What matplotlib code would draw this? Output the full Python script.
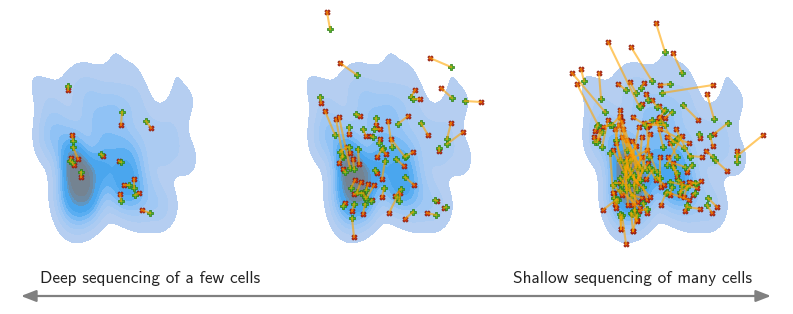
import numpy as np
import matplotlib
matplotlib.use('Agg')
import matplotlib.pyplot as plt

# rows: true x, true y, measured x, measured y  (embedding units, y downwards)
deep_cells = np.array([
    [68, 86, 68, 90], [122, 112, 121, 125], [146, 121, 151, 128],
    [73, 141, 72, 135], [73, 147, 78, 159], [70, 161, 71, 158],
    [72, 162, 74, 165], [81, 172, 81, 177], [101, 154, 103, 156],
    [121, 162, 119, 161], [134, 188, 134, 179], [129, 185, 124, 185],
    [135, 195, 139, 193], [121, 201, 120, 194], [150, 213, 142, 210],
])

medium_cells = np.array([
    [55, 29, 52, 12], [82, 75, 65, 63], [176, 67, 155, 58],
    [177, 98, 166, 88], [190, 101, 206, 102], [136, 97, 140, 90],
    [138, 99, 145, 99], [45, 97, 46, 103], [123, 124, 133, 116],
    [146, 123, 153, 135], [172, 139, 176, 123], [172, 144, 188, 132],
    [164, 148, 164, 151], [81, 114, 85, 116], [101, 118, 101, 125],
    [88, 129, 91, 136], [99, 129, 105, 129], [98, 137, 96, 136],
    [104, 143, 105, 139], [117, 147, 113, 121], [130, 157, 116, 139],
    [131, 156, 138, 152], [121, 159, 129, 166], [130, 177, 139, 185],
    [110, 161, 107, 179], [108, 148, 102, 157], [100, 170, 102, 173],
    [109, 188, 107, 197], [126, 189, 120, 196], [124, 201, 125, 193],
    [122, 197, 114, 213], [138, 212, 130, 219], [160, 200, 162, 201],
    [161, 215, 152, 213], [171, 207, 169, 208], [77, 218, 79, 237],
    [79, 204, 77, 211], [68, 206, 70, 203], [90, 204, 88, 214],
    [96, 201, 97, 200], [83, 149, 84, 164], [74, 127, 74, 134],
    [60, 135, 50, 111], [68, 157, 61, 119], [75, 168, 64, 117],
    [67, 156, 64, 163], [70, 172, 68, 169], [76, 188, 80, 180],
    [82, 192, 86, 182], [91, 190, 93, 184], [91, 199, 99, 185],
    [86, 193, 79, 194], [79, 169, 78, 159], [90, 197, 88, 193],
    [65, 152, 72, 147], [74, 147, 75, 153], [107, 149, 111, 154],
])

shallow_cells = np.array([
    [115, 52, 106, 23], [132, 73, 123, 53], [89, 106, 58, 42],
    [102, 81, 81, 47], [55, 112, 22, 73], [34, 81, 31, 69],
    [48, 125, 27, 84], [51, 99, 49, 73], [76, 90, 68, 84],
    [86, 93, 80, 82], [91, 88, 94, 83], [120, 84, 110, 85],
    [112, 93, 163, 85], [164, 119, 157, 94], [133, 105, 148, 120],
    [178, 123, 164, 134], [187, 156, 213, 135], [187, 162, 187, 151],
    [165, 160, 177, 171], [163, 157, 156, 151], [160, 136, 163, 146],
    [149, 134, 150, 138], [127, 139, 139, 143], [140, 156, 152, 157],
    [158, 198, 167, 207], [157, 205, 162, 213], [146, 184, 151, 181],
    [138, 207, 150, 209], [137, 205, 135, 211], [145, 193, 143, 195],
    [132, 186, 130, 195], [72, 215, 76, 244], [67, 199, 53, 210],
    [87, 215, 83, 231], [70, 214, 71, 229], [68, 200, 66, 208],
    [64, 198, 64, 193], [116, 193, 111, 205], [109, 178, 111, 187],
    [122, 187, 120, 195], [97, 209, 89, 211], [82, 214, 87, 221],
    [93, 203, 97, 213], [45, 142, 44, 137], [52, 132, 48, 140],
    [47, 126, 45, 131], [77, 150, 70, 117], [87, 167, 72, 121],
    [80, 175, 69, 125], [70, 160, 65, 129], [90, 180, 73, 129],
    [78, 177, 66, 143], [74, 172, 63, 150], [92, 170, 72, 137],
    [90, 167, 77, 140], [97, 170, 82, 141], [75, 162, 86, 146],
    [72, 185, 81, 156], [76, 190, 77, 158], [80, 170, 89, 127],
    [87, 190, 92, 137], [99, 157, 97, 127], [90, 180, 100, 134],
    [80, 160, 97, 150], [78, 178, 92, 157], [84, 185, 98, 163],
    [76, 165, 87, 183], [82, 195, 92, 198], [93, 187, 97, 200],
    [83, 177, 100, 197], [70, 178, 88, 202], [70, 190, 90, 208],
    [79, 185, 83, 205], [65, 183, 70, 183], [63, 185, 72, 195],
    [75, 167, 78, 205], [84, 175, 85, 211], [84, 210, 87, 220],
    [81, 213, 83, 231], [71, 217, 71, 229], [66, 200, 65, 204],
    [60, 153, 63, 193], [52, 147, 58, 120], [60, 125, 53, 127],
    [47, 142, 50, 130], [66, 140, 70, 110], [115, 125, 99, 125],
    [113, 147, 107, 121], [123, 142, 110, 117], [128, 138, 110, 129],
    [134, 148, 117, 137], [127, 157, 120, 143], [140, 157, 126, 129],
    [117, 165, 132, 136], [107, 172, 100, 155], [110, 178, 110, 157],
    [127, 173, 118, 157], [135, 167, 123, 163], [142, 165, 137, 172],
    [145, 183, 139, 182], [130, 192, 143, 183], [120, 182, 147, 188],
    [137, 187, 134, 197], [117, 192, 139, 200], [107, 177, 114, 185],
    [99, 167, 106, 180], [123, 167, 127, 177], [128, 180, 132, 183],
    [103, 170, 96, 179], [98, 100, 96, 94], [107, 107, 102, 100],
    [114, 111, 109, 106], [90, 107, 92, 104], [95, 125, 83, 117],
    [62, 125, 70, 116], [102, 120, 94, 123], [110, 122, 98, 125],
    [115, 110, 109, 118], [122, 112, 115, 118],
])

label_left = 'Deep sequencing of a few cells'
label_right = 'Shallow sequencing of many cells'

density_colors = ['#b5cef1', '#abcbf2', '#a0c8f4', '#90c2f5', '#78baf5',
                  '#5aaef2', '#4aa6ee', '#5e97c4', '#6d8aa3', '#748391']
level_fracs = [0.05, 0.13, 0.21, 0.29, 0.37, 0.45, 0.53, 0.66, 0.72, 0.82, 1.01]

W, H = 793, 314
fig = plt.figure(figsize=(W / 100, H / 100), dpi=100)

# density of the true cell positions (gaussian kde on a grid)
true_pts = np.vstack([deep_cells[:, :2], medium_cells[:, :2], shallow_cells[:, :2]])
gx, gy = np.meshgrid(np.arange(0, 250), np.arange(0, 260))
bw_x, bw_y = 9.0, 15.0
dens = np.zeros(gx.shape)
for px, py in true_pts:
    dens += np.exp(-(gx - px) ** 2 / (2 * bw_x ** 2) - (gy - py) ** 2 / (2 * bw_y ** 2))
levels = np.array(level_fracs) * dens.max()

for offset, cells in zip([0, 275, 550], [deep_cells, medium_cells, shallow_cells]):
    ax = fig.add_axes([offset / W, (H - 260) / H, 250 / W, 260 / H])
    ax.contourf(gx, gy, dens, levels=levels, colors=density_colors)
    ax.scatter(cells[:, 2], cells[:, 3], s=15, marker='X', c='#cc3311',
               edgecolors='#8b1a08', linewidths=0.5, zorder=3, clip_on=False)
    ax.scatter(cells[:, 0], cells[:, 1], s=18, marker='P', c='#55b02a',
               edgecolors='#2c7d14', linewidths=0.5, zorder=3, clip_on=False)
    ax.plot([cells[:, 0], cells[:, 2]], [cells[:, 1], cells[:, 3]],
            color='#ffa500', alpha=0.6, lw=1.5, zorder=4, clip_on=False)
    ax.set_xlim(0, 250)
    ax.set_ylim(260, 0)
    ax.axis('off')

# axis arrow and labels, in pixel coordinates
lay = fig.add_axes([0, 0, 1, 1])
lay.set_xlim(0, W)
lay.set_ylim(H, 0)
lay.axis('off')
lay.annotate('', xy=(21, 296), xytext=(771, 296),
             arrowprops=dict(arrowstyle='<|-|>,head_length=0.9,head_width=0.35',
                             color='#808080', lw=1.6, shrinkA=0, shrinkB=0))
lay.text(40, 283, label_left, ha='left', va='baseline', fontfamily='cmss10',
         fontsize=12.4, color='#222222')
lay.text(752, 283, label_right, ha='right', va='baseline', fontfamily='cmss10',
         fontsize=12.4, color='#222222')

fig.savefig('out.png', dpi=100)
